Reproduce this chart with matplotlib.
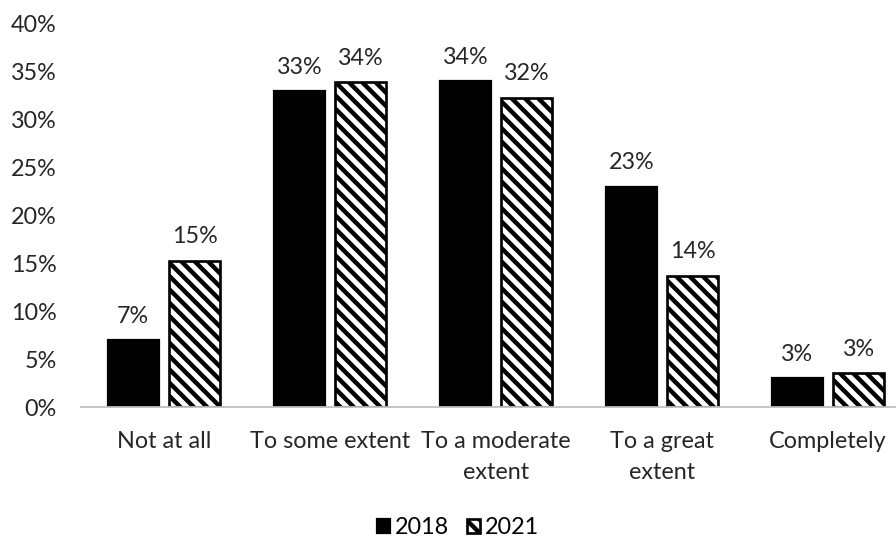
import matplotlib
matplotlib.use("Agg")
import matplotlib.pyplot as plt
import numpy as np

categories = ["Not at all", "To some extent", "To a moderate\nextent", "To a great\nextent", "Completely"]
vals_2018 = [7.0, 33.0, 34.0, 23.0, 3.0]
vals_2021 = [15.3, 33.9, 32.3, 13.7, 3.5]
labels_2018 = ["7%", "33%", "34%", "23%", "3%"]
labels_2021 = ["15%", "34%", "32%", "14%", "3%"]
yticks = [0, 5, 10, 15, 20, 25, 30, 35, 40]

plt.rcParams['font.family'] = ['Lato', 'DejaVu Sans']
plt.rcParams['hatch.linewidth'] = 2.0
fs = 10.5

fig = plt.figure(figsize=(5.6, 3.40625), dpi=160)
ax = fig.add_axes([81/896, 1-407/545, 830/896, (407-24)/545])

x = np.arange(len(categories))
w = 0.31
gap = 0.03
b1 = ax.bar(x - w/2 - gap, vals_2018, w, color="black", edgecolor="black", label="2018")
b2 = ax.bar(x + w/2 + gap, vals_2021, w, color="white", edgecolor="black", hatch="\\\\\\\\",
            linewidth=1.2, label="2021")

for r, t in zip(b1, labels_2018):
    ax.text(r.get_x() + r.get_width()/2, r.get_height() + 1.4, t, ha="center", va="bottom",
            fontsize=fs, color="#262626")
for r, t in zip(b2, labels_2021):
    ax.text(r.get_x() + r.get_width()/2, r.get_height() + 1.4, t, ha="center", va="bottom",
            fontsize=fs, color="#262626")

ax.set_ylim(0, 40)
ax.set_xlim(-0.5, len(categories) - 0.5)
ax.set_yticks(yticks)
ax.set_yticklabels([f"{v}%" for v in yticks], fontsize=fs, color="#262626")
ax.set_xticks(x)
ax.set_xticklabels(categories, fontsize=fs, color="#262626", linespacing=1.55)
ax.tick_params(axis="y", length=0, pad=11)
ax.tick_params(axis="x", length=0, pad=11)
for s in ["top", "right", "left"]:
    ax.spines[s].set_visible(False)
ax.spines["bottom"].set_color("#bfbfbf")
ax.spines["bottom"].set_linewidth(0.8)

fig.legend(loc="center", bbox_to_anchor=(458/896, 1-528/545), ncol=2, frameon=False,
           fontsize=fs, handlelength=0.55, handleheight=0.55, handletextpad=0.2, columnspacing=0.8)

fig.savefig("out.png", dpi=160)
